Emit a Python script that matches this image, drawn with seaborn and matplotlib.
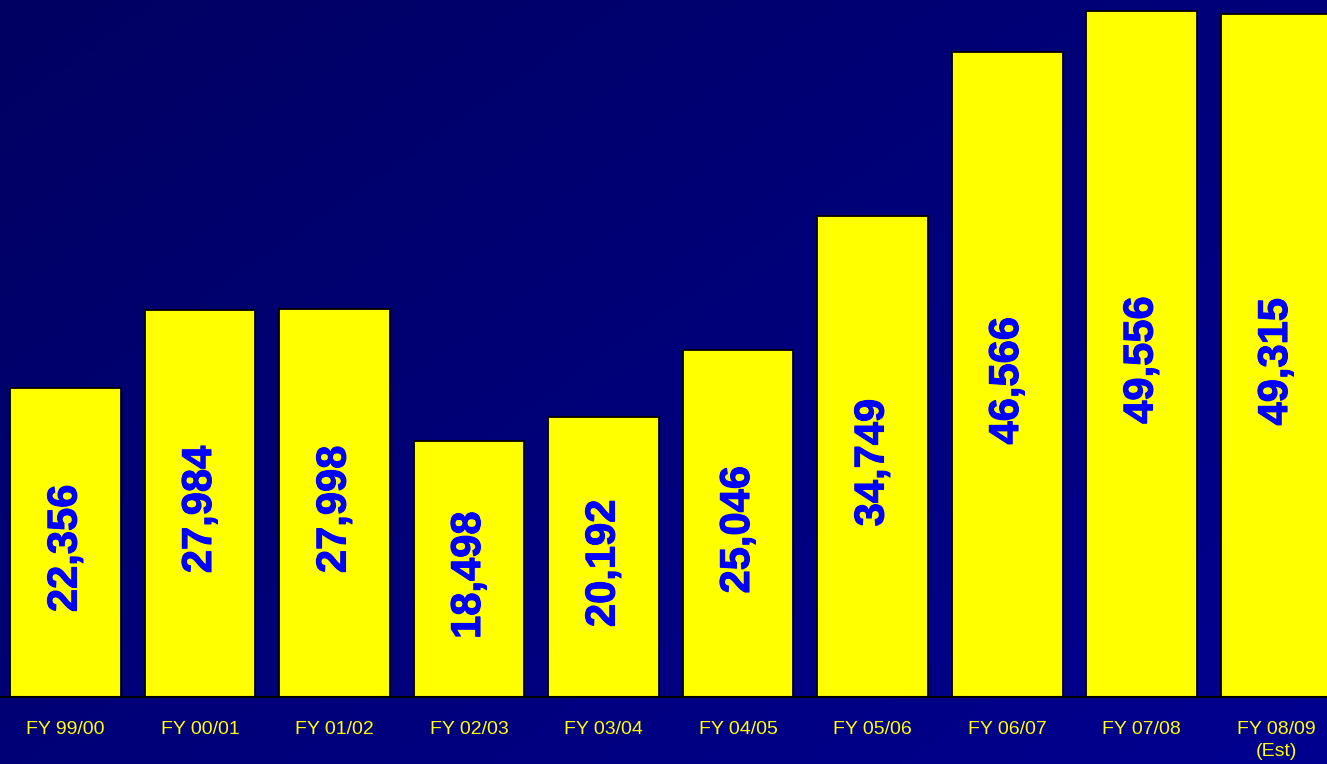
import numpy as np
import pandas as pd
import matplotlib
matplotlib.use("Agg")
import matplotlib.pyplot as plt
from matplotlib.colors import LinearSegmentedColormap
from matplotlib import font_manager
import matplotlib.patheffects as pe
import seaborn as sns

years = ["FY 99/00", "FY 00/01", "FY 01/02", "FY 02/03", "FY 03/04",
         "FY 04/05", "FY 05/06", "FY 06/07", "FY 07/08", "FY 08/09\n(Est)"]
values = [22356, 27984, 27998, 18498, 20192, 25046, 34749, 46566, 49556, 49315]

df = pd.DataFrame({"year": years, "value": values})

sns.set_theme(style="white")
plt.rcParams["font.family"] = ["Liberation Sans", "DejaVu Sans"]

# pick a genuine bold face for the value labels
bold_fp = None
for fam in ["Liberation Sans", "Roboto", "Noto Sans", "Open Sans"]:
    for f in font_manager.fontManager.ttflist:
        w = f.weight if isinstance(f.weight, int) else font_manager.weight_dict.get(f.weight, 400)
        if f.name == fam and w == 700 and f.style == "normal" and "Narrow" not in f.fname:
            bold_fp = font_manager.FontProperties(fname=f.fname, size=30)
            break
    if bold_fp is not None:
        break
if bold_fp is None:
    bold_fp = font_manager.FontProperties(family="DejaVu Sans", weight="bold", size=28)

W, H, DPI = 1327, 764, 100
fig = plt.figure(figsize=(W / DPI, H / DPI), dpi=DPI)

# diagonal navy gradient behind everything
bg = fig.add_axes([0, 0, 1, 1], zorder=0)
yy, xx = np.mgrid[0:1:200j, 0:1:300j]
grad = (xx * 0.55 + yy * 0.45)
cmap = LinearSegmentedColormap.from_list("navy", ["#000062", "#000090"])
bg.imshow(grad, cmap=cmap, aspect="auto", extent=[0, 1, 1, 0])
bg.set_axis_off()

base_px = 697
ax = fig.add_axes([0, (H - base_px) / H, 1, base_px / H], zorder=1)
ax.patch.set_alpha(0)

sns.barplot(data=df, x="year", y="value", color="#FFFF00", saturation=1,
            edgecolor="black", linewidth=1.3, width=0.825, ax=ax)

ax.set_xlim(-0.487, 9.379)
ax.set_ylim(0, 50350)

for i, v in enumerate(values):
    ax.annotate(f"{v:,}", xy=(i, v / 2), xytext=(0, -4.5),
                textcoords="offset points", rotation=90,
                ha="center", va="center", color="#0000FF",
                fontproperties=bold_fp,
                path_effects=[pe.withStroke(linewidth=0.8, foreground="#0000FF")])

ax.set_xlabel("")
ax.set_ylabel("")
ax.set_yticks([])
ax.tick_params(axis="x", length=0, pad=17, labelsize=14, labelcolor="#FFFF00")
for lbl in ax.get_xticklabels():
    lbl.set_verticalalignment("top")
    lbl.set_linespacing(1.45)

for side in ["top", "left", "right"]:
    ax.spines[side].set_visible(False)
ax.spines["bottom"].set_color("black")
ax.spines["bottom"].set_linewidth(1.5)

fig.savefig("out.png", dpi=DPI)
